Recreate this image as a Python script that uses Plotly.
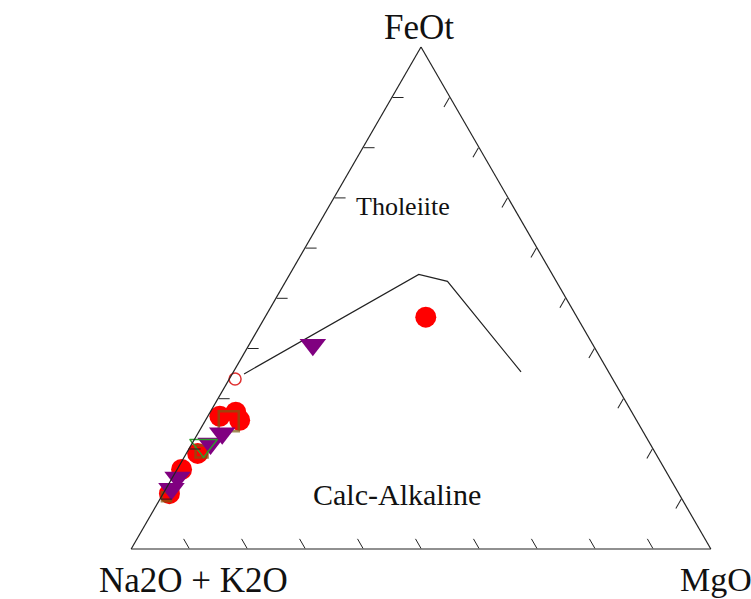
import plotly.graph_objects as go

# Ternary components: a = FeOt (top), b = Na2O + K2O (bottom-left), c = MgO (bottom-right)
# Irvine & Baragar dividing line
line_a = [0.3487, 0.5471, 0.5331, 0.3527]
line_b = [0.6309, 0.2303, 0.1878, 0.1511]
line_c = [0.0204, 0.2226, 0.2791, 0.4962]

# Red filled circles
red_a = [0.4619, 0.2645, 0.2725, 0.2565, 0.1904, 0.1583, 0.1102]
red_b = [0.2608, 0.7148, 0.6833, 0.6846, 0.7901, 0.8339, 0.8789]
red_c = [0.2773, 0.0207, 0.0442, 0.0589, 0.0195, 0.0078, 0.0109]

# Olive open squares
olive_a = [0.2545, 0.1944, 0.1042]
olive_b = [0.7044, 0.7813, 0.8871]
olive_c = [0.0411, 0.0243, 0.0087]
olive_size = [20, 12, 9]

# Purple filled down-triangles
purple_a = [0.4068, 0.2305, 0.2104, 0.1423, 0.1202]
purple_b = [0.4832, 0.7277, 0.7579, 0.8488, 0.8704]
purple_c = [0.1100, 0.0418, 0.0317, 0.0089, 0.0094]

# Green open down-triangle
green_a = [0.2064]
green_b = [0.7719]
green_c = [0.0217]

# Red open circle
ored_a = [0.3387]
ored_b = [0.6514]
ored_c = [0.0099]

# Labels
field_labels = ["Tholeiite", "Calc-Alkaline"]
apex_labels = ["FeOt", "Na2O + K2O", "MgO"]

fig = go.Figure()

fig.add_trace(go.Scatterternary(a=line_a, b=line_b, c=line_c, mode="lines",
                                line=dict(color="#222222", width=1.2),
                                showlegend=False, hoverinfo="skip", cliponaxis=False))
fig.add_trace(go.Scatterternary(a=red_a, b=red_b, c=red_c, mode="markers",
                                marker=dict(symbol="circle", size=21, color="#ff0000",
                                            line=dict(width=0)),
                                showlegend=False, cliponaxis=False))
fig.add_trace(go.Scatterternary(a=olive_a, b=olive_b, c=olive_c, mode="markers",
                                marker=dict(symbol="square-open", size=olive_size, color="#7a5a10",
                                            line=dict(width=2.5, color="#7a5a10")),
                                showlegend=False, cliponaxis=False))
fig.add_trace(go.Scatterternary(a=purple_a, b=purple_b, c=purple_c, mode="markers",
                                marker=dict(symbol="triangle-down", size=23, color="#800080",
                                            line=dict(width=0)),
                                showlegend=False, cliponaxis=False))
fig.add_trace(go.Scatterternary(a=green_a, b=green_b, c=green_c, mode="markers",
                                marker=dict(symbol="triangle-down-open", size=24, color="#2ca02c",
                                            line=dict(width=1.5, color="#2ca02c")),
                                showlegend=False, cliponaxis=False))
fig.add_trace(go.Scatterternary(a=ored_a, b=ored_b, c=ored_c, mode="markers",
                                marker=dict(symbol="circle-open", size=12, color="#e03030",
                                            line=dict(width=1.5, color="#e03030")),
                                showlegend=False, cliponaxis=False))

axis_style = dict(showticklabels=False, ticks="inside", ticklen=11, tickwidth=1.2,
                  tickcolor="#222222", tick0=0, dtick=0.1, showgrid=False,
                  showline=True, linecolor="#222222", linewidth=1.2, title=dict(text=""))

W, H = 751, 599
fig.update_layout(
    width=W, height=H,
    margin=dict(l=0, r=0, t=0, b=0),
    paper_bgcolor="white",
    ternary=dict(
        sum=1,
        domain=dict(x=[129 / W, 713 / W], y=[1 - 549 / H, 1 - 47 / H]),
        bgcolor="white",
        aaxis=axis_style, baxis=axis_style, caxis=axis_style,
    ),
    font=dict(family="Liberation Serif", color="#111111"),
)

def ann(text, px, py, size):
    fig.add_annotation(text=text, x=px / W, y=1 - py / H, xref="paper", yref="paper",
                       xanchor="center", yanchor="middle", showarrow=False,
                       font=dict(family="Liberation Serif", size=size, color="#111111"))

ann(apex_labels[0], 419, 27, 35)
ann(apex_labels[1], 193, 580, 35)
ann(apex_labels[2], 716, 579, 34)
ann(field_labels[0], 403, 207, 26)
ann(field_labels[1], 397, 494, 30)

fig.write_html("out.html")
